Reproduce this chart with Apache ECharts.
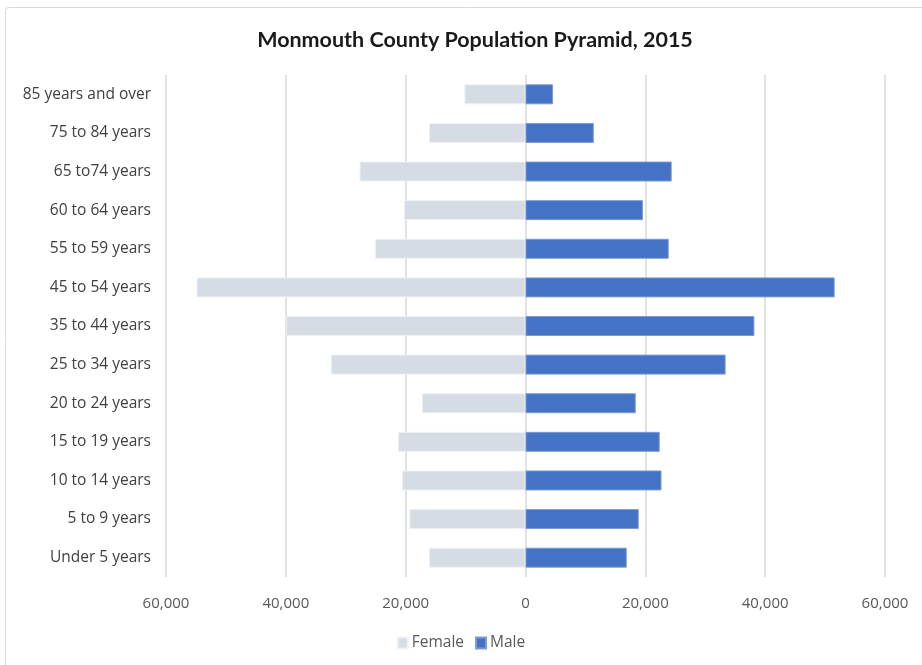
<!DOCTYPE html>
<html>
<head>
<meta charset="utf-8">
<script src="https://cdn.jsdelivr.net/npm/echarts@6/dist/echarts.min.js"></script>
<style>
html,body{margin:0;padding:0;background:#fff;}
#chart{width:922px;height:665px;}
</style>
</head>
<body>
<div id="chart"></div>
<script>
const title = "Monmouth County Population Pyramid, 2015";
const categories = ["85 years and over","75 to 84 years","65 to74 years","60 to 64 years","55 to 59 years","45 to 54 years","35 to 44 years","25 to 34 years","20 to 24 years","15 to 19 years","10 to 14 years","5 to 9 years","Under 5 years"];
const female = [10200, 16100, 27700, 20300, 25100, 54900, 40000, 32500, 17300, 21300, 20600, 19400, 16100];
const male = [4600, 11400, 24400, 19600, 23900, 51600, 38200, 33400, 18400, 22400, 22700, 18900, 16900];
const xTicks = {min: -60000, max: 60000, interval: 20000};

const font = "'Open Sans', 'Noto Sans', sans-serif";
const chart = echarts.init(document.getElementById('chart'));
const fmt = v => Math.abs(v).toLocaleString('en-US');
chart.setOption({
  backgroundColor: '#fff',
  animation: false,
  graphic: [{type:'rect', shape:{x:5.5,y:7.5,width:930,height:700,r:3}, style:{fill:'none', stroke:'#D9D9D9', lineWidth:1}, silent:true}],
  title: {text: title, left: 470, top: 24, textAlign: 'center',
    textStyle: {fontFamily: "'Lato', 'Noto Sans', sans-serif", fontWeight: 'bold', fontSize: 21.5, color: '#1a1a1a'}},
  legend: {data: ['Female','Male'], bottom: 9, left: 'center', itemWidth: 10, itemHeight: 11, itemGap: 11, icon: 'rect',
    textStyle: {fontFamily: font, fontSize: 15.5, color: '#595959', padding: [0,0,0,-1]}},
  grid: {left: 166, right: 37, top: 75, bottom: 88, containLabel: false},
  xAxis: {type: 'value', min: xTicks.min, max: xTicks.max, interval: xTicks.interval,
    axisLine: {show:false}, axisTick: {show:false},
    splitLine: {lineStyle: {color: '#D9D9D9', width: 1.5}},
    axisLabel: {formatter: fmt, fontFamily: font, fontSize: 15, color: '#595959', margin: 19}},
  yAxis: {type: 'category', data: categories, inverse: true,
    axisLine: {show:false}, axisTick: {show:false},
    axisLabel: {fontFamily: font, fontSize: 15.5, color: '#404040', margin: 15}},
  series: [
    {name: 'Female', type: 'bar', stack: 'p', data: female.map(v => -v), barWidth: 20,
     itemStyle: {color: '#D6DCE4', borderColor: '#EEF1F5', borderWidth: 1}},
    {name: 'Male', type: 'bar', stack: 'p', data: male, barWidth: 20,
     itemStyle: {color: '#4472C4', borderColor: '#7C9BD6', borderWidth: 1}}
  ]
});
</script>
</body>
</html>
